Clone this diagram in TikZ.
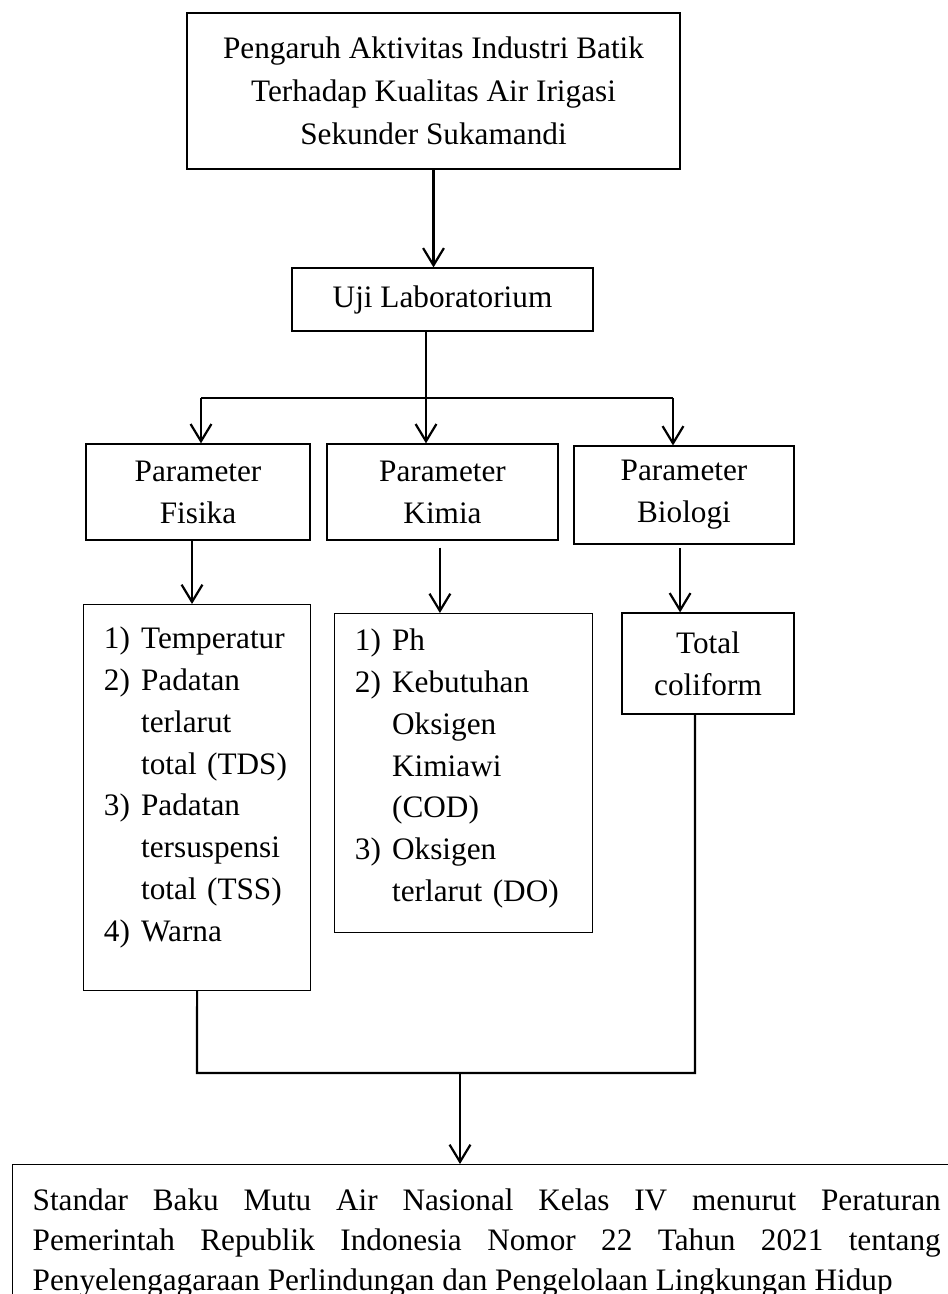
\documentclass[tikz,border=0pt]{standalone}
\usepackage{fontspec}
\setmainfont{Liberation Serif}
\usepackage{tikz}
\usetikzlibrary{arrows.meta, positioning}

\begin{document}
\begin{tikzpicture}[x=0.384pt, y=-0.384pt,
    kotak/.style={draw, line width=0.45pt, inner sep=0pt, align=center,
        font=\fontsize{12pt}{16.1pt}\selectfont},
    daftar/.style={draw, line width=0.45pt, inner ysep=0pt, inner xsep=7.8pt, align=left,
        font=\fontsize{12pt}{16.1pt}\selectfont},
    garis/.style={line width=0.85pt},
    panah/.style={line width=0.85pt, -{Straight Barb[length=6.6pt, width=8pt]}}]
    \useasboundingbox (0,0) rectangle (948,1294);
    \clip (0,0) rectangle (948,1294);

    % judul dan uji
    \node[kotak, minimum width=189.3pt, minimum height=59.9pt, font=\fontsize{12pt}{16.5pt}\selectfont] (judul) at (433.5, 91)
        {Pengaruh Aktivitas Industri Batik\\ Terhadap Kualitas Air Irigasi\\ Sekunder Sukamandi};
    \node[kotak, minimum width=115.6pt, minimum height=24.2pt] (uji) at (442.5, 299.5) {Uji Laboratorium};

    % parameter
    \node[kotak, minimum width=86pt, minimum height=36.9pt] (fisika) at (198, 492) {Parameter\\ Fisika};
    \node[kotak, minimum width=88.7pt, minimum height=36.9pt] (kimia) at (442.5, 492) {Parameter\\ Kimia};
    \node[kotak, minimum width=84.5pt, minimum height=37.6pt] (biologi) at (684, 495) {Parameter\\ Biologi};

    % daftar isi parameter
    \node[daftar, text width=71.6pt, minimum height=148.2pt, anchor=north west] (dafFisika) at (83, 604)
        {\begin{tabular}{@{}l@{\hspace{4.3pt}}l@{}}
            1) & Temperatur\\
            2) & Padatan\\
               & terlarut\\
               & total (TDS)\\
            3) & Padatan\\
               & tersuspensi\\
               & total (TSS)\\
            4) & Warna\\[8.4pt]
        \end{tabular}};
    \node[daftar, text width=83.5pt, minimum height=122.5pt, anchor=north west] (dafKimia) at (334, 613)
        {\begin{tabular}{@{}l@{\hspace{4.3pt}}l@{}}
            1) & Ph\\
            2) & Kebutuhan\\
               & Oksigen\\
               & Kimiawi\\
               & (COD)\\
            3) & Oksigen\\
               & terlarut (DO)\\[4.2pt]
        \end{tabular}};
    \node[kotak, minimum width=66pt, minimum height=38.8pt] (coliform) at (708, 663.5) {Total\\ coliform};

    % standar baku mutu
    \node[draw, line width=0.45pt, anchor=north west, inner xsep=7.7pt, inner ysep=4pt, text width=348.7pt,
        minimum height=60pt, align=justify, font=\fontsize{12pt}{15.4pt}\selectfont] (standar) at (12, 1164)
        {Standar Baku Mutu Air Nasional Kelas IV menurut Peraturan\linebreak
         Pemerintah Republik Indonesia Nomor 22 Tahun 2021 tentang\linebreak
         Penyelengagaraan Perlindungan dan Pengelolaan Lingkungan Hidup};

    % percabangan
    \coordinate (cabang) at (426, 398);
    \coordinate (kiri) at (201, 398);
    \coordinate (kanan) at (673, 398);
    \coordinate (turun) at (460, 1073);
    \coordinate (kumpulKiri) at (197, 1073);
    \coordinate (kumpulKanan) at (695, 1073);

    \draw[panah] (judul.south) -- (judul.south |- uji.north);
    \draw[garis] (uji.south -| cabang) -- (cabang);
    \draw[garis] (kiri) -- (kanan);
    \draw[panah] (kiri) -- (kiri |- fisika.north);
    \draw[panah] (cabang) -- (cabang |- kimia.north);
    \draw[panah] (kanan) -- (kanan |- biologi.north);

    \draw[panah] ([xshift=-2.3pt]fisika.south) -- ([xshift=-2.3pt]fisika.south |- dafFisika.north);
    \draw[panah, shorten <=2.7pt] ([xshift=-1pt]kimia.south) -- ([xshift=-1pt]kimia.south |- dafKimia.north);
    \draw[panah, shorten <=1.5pt] ([xshift=-1.5pt]biologi.south) -- ([xshift=-1.5pt]biologi.south |- coliform.north);

    \draw[garis] (dafFisika.south) -- (kumpulKiri) -- (kumpulKanan) -- (kumpulKanan |- coliform.south);
    \draw[panah] (turun) -- (turun |- standar.north);
\end{tikzpicture}
\end{document}
